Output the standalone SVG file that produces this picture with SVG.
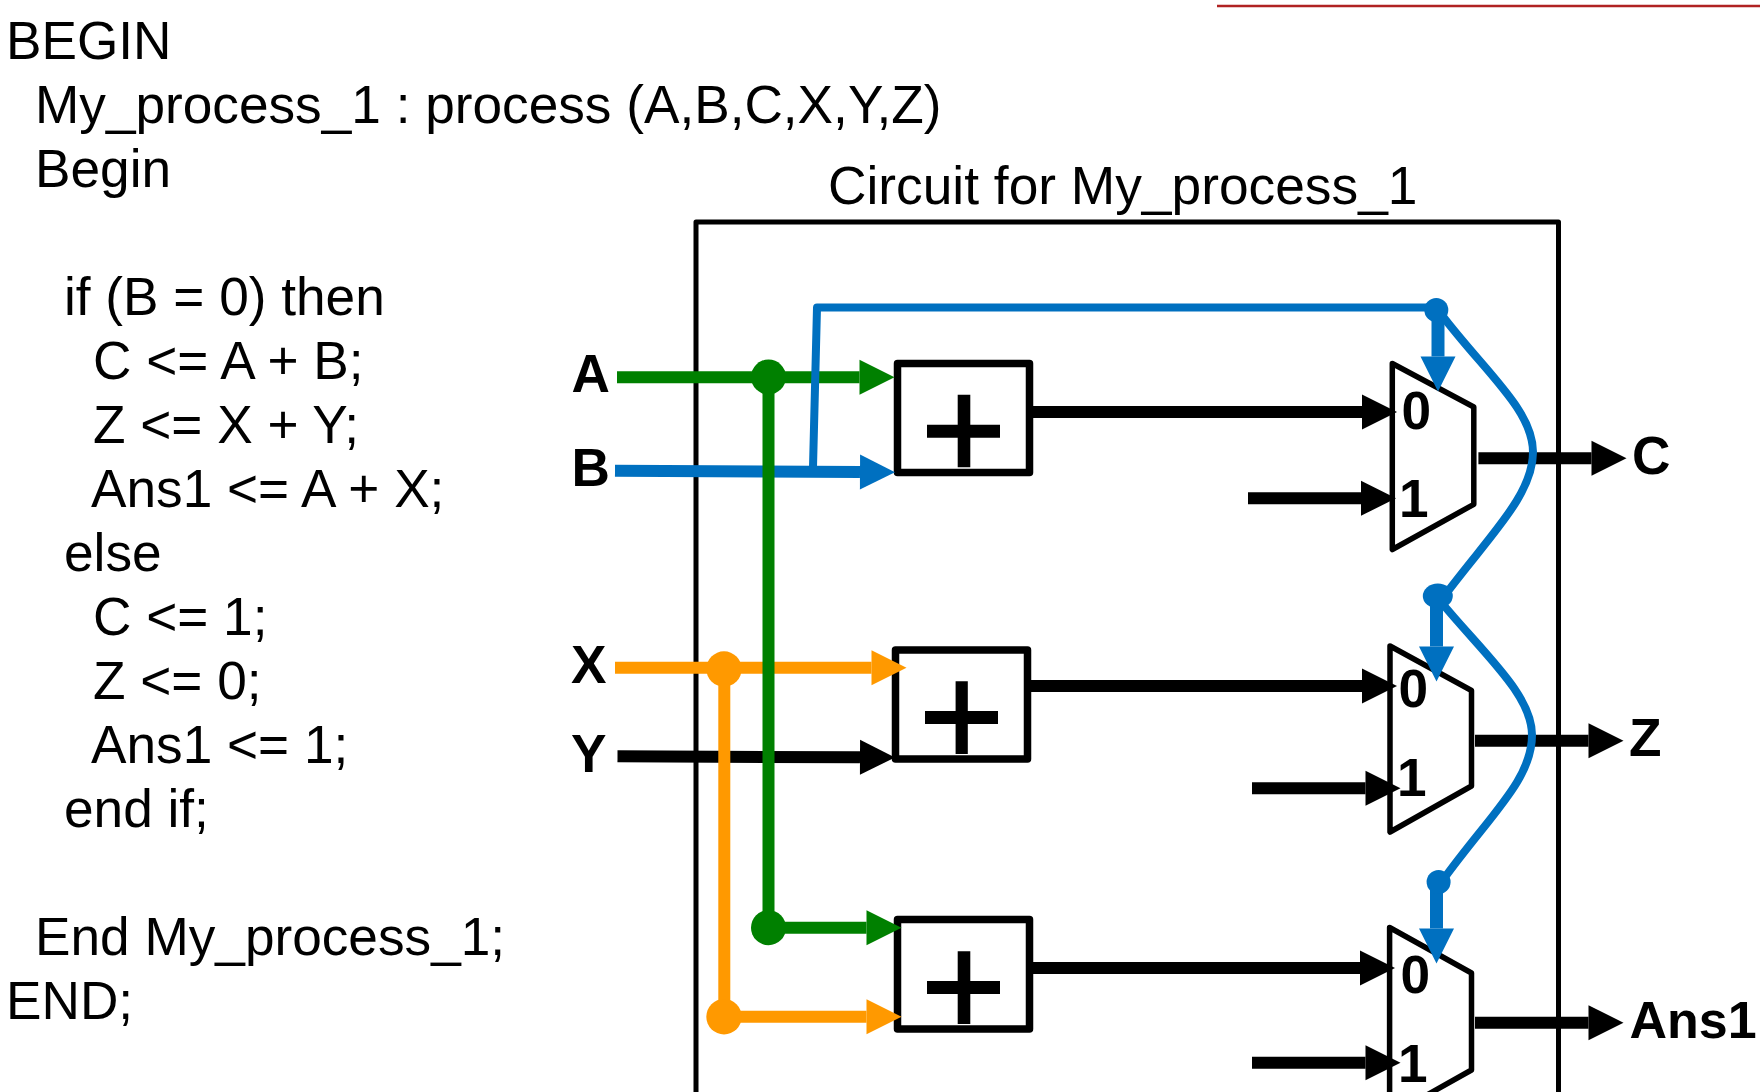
<svg xmlns="http://www.w3.org/2000/svg" width="1760" height="1092" viewBox="0 0 1760 1092">
<style>
text{font-family:"Liberation Sans",Arial,sans-serif;font-size:53.2px;fill:#000}
.b{font-weight:bold}
.w{fill:none;stroke-width:12;stroke-linecap:butt}
.k{stroke:#000}.g{stroke:#008000}.u{stroke:#0070C0}.o{stroke:#FF9900}
.box{fill:#fff;stroke:#000;stroke-width:7.5;stroke-linejoin:round}
.mux{fill:#fff;stroke:#000;stroke-width:5.5;stroke-linejoin:round}
.plus{fill:#000}
.thin{fill:none;stroke:#0070C0;stroke-width:8;stroke-linejoin:round}
</style>
<defs>
<marker id="hk" markerUnits="userSpaceOnUse" markerWidth="36" markerHeight="36" refX="0" refY="17.5" orient="auto" overflow="visible"><path d="M0,0L35,17.5L0,35Z" fill="#000"/></marker>
<marker id="hg" markerUnits="userSpaceOnUse" markerWidth="36" markerHeight="36" refX="0" refY="17.5" orient="auto" overflow="visible"><path d="M0,0L35,17.5L0,35Z" fill="#008000"/></marker>
<marker id="hu" markerUnits="userSpaceOnUse" markerWidth="36" markerHeight="36" refX="0" refY="17.5" orient="auto" overflow="visible"><path d="M0,0L35,17.5L0,35Z" fill="#0070C0"/></marker>
<marker id="ho" markerUnits="userSpaceOnUse" markerWidth="36" markerHeight="36" refX="0" refY="17.5" orient="auto" overflow="visible"><path d="M0,0L35,17.5L0,35Z" fill="#FF9900"/></marker>
</defs>
<path d="M1217,6H1760" fill="none" stroke="#B02222" stroke-width="2.4"/>
<g id="code">
<text x="6" y="58.5">BEGIN</text>
<text x="35" y="122.5">My_process_1 : process (A,B,C,X,Y,Z)</text>
<text x="35" y="186.5">Begin</text>
<text x="64" y="314.5">if (B = 0) then</text>
<text x="93" y="378.5">C &lt;= A + B;</text>
<text x="93" y="442.5">Z &lt;= X + Y;</text>
<text x="91" y="506.5">Ans1 &lt;= A + X;</text>
<text x="64" y="570.5">else</text>
<text x="93" y="634.5">C &lt;= 1;</text>
<text x="93" y="698.5">Z &lt;= 0;</text>
<text x="91" y="762.5">Ans1 &lt;= 1;</text>
<text x="64" y="826.5">end if;</text>
<text x="35" y="954.5">End My_process_1;</text>
<text x="6" y="1018.5">END;</text>
</g>
<text id="title" x="828" y="204" style="font-size:53.3px">Circuit for My_process_1</text>
<g id="frame"><path d="M696,1092V222H1558.5V1092" fill="none" stroke="#000" stroke-width="5" stroke-linejoin="round"/></g>
<g id="adder1"><rect class="box" x="897.5" y="363.5" width="132" height="109"/><path class="plus" d="M957.7,394.7H970.3V424.7H1000V437.7H970.3V467.3H957.7V437.7H927V424.7H957.7Z"/></g>
<g id="adder2"><rect class="box" x="895.5" y="650" width="132" height="109"/><path class="plus" d="M955.6,681.3H967.8V711H998V724H967.8V754H955.6V724H925V711H955.6Z"/></g>
<g id="adder3"><rect class="box" x="897.5" y="919.5" width="132" height="109.5"/><path class="plus" d="M957.7,951.3H970.3V981H1000V994H970.3V1024H957.7V994H927V981H957.7Z"/></g>
<g id="mux1"><path class="mux" d="M1392.3,363.5L1473.8,407V504.3L1392.3,549.5Z"/><text class="b" x="1401.5" y="428.5">0</text><text class="b" x="1399" y="517">1</text></g>
<g id="mux2"><path class="mux" d="M1390,646L1471.5,690.5V786L1390,832Z"/><text class="b" x="1398.5" y="707">0</text><text class="b" x="1397" y="796">1</text></g>
<g id="mux3"><path class="mux" d="M1389.6,927.5L1471.5,973V1070L1389.6,1116Z"/><text class="b" x="1400.5" y="993">0</text><text class="b" x="1398" y="1081.5">1</text></g>
<g id="connectors">
<path class="w k" d="M1033,412H1362" marker-end="url(#hk)"/>
<path class="w k" d="M1030,686H1362" marker-end="url(#hk)"/>
<path class="w k" d="M1033,968H1360" marker-end="url(#hk)"/>
<path class="w k" d="M1248,498.3H1361" marker-end="url(#hk)"/>
<path class="w k" d="M1252,788.3H1365.5" marker-end="url(#hk)"/>
<path class="w k" d="M1252,1062.7H1365.5" marker-end="url(#hk)"/>
<path class="w k" d="M1478.4,458.3H1591.5" marker-end="url(#hk)"/>
<path class="w k" d="M1475,740.7H1588.5" marker-end="url(#hk)"/>
<path class="w k" d="M1475,1022.7H1588.5" marker-end="url(#hk)"/>
<path class="w k" d="M617.5,756.3L860,757.3" marker-end="url(#hk)"/>
<path class="w o" d="M615,667.7H871.5" marker-end="url(#ho)"/>
<path class="w o" d="M724.3,669V1016.7"/>
<path class="w o" d="M724.3,1016.7H866.5" marker-end="url(#ho)"/>
<path class="w u" d="M615,470.7L860,472" marker-end="url(#hu)"/>
<path class="w g" d="M617,377.3H859.5" marker-end="url(#hg)"/>
<path class="w g" d="M768.5,377V927.7"/>
<path class="w g" d="M768.5,927.7H866.5" marker-end="url(#hg)"/>
<path class="thin" d="M813,467L817,307.5H1436"/>
<path class="thin" d="M1441,314C1485,372 1533,410 1533,452C1533,495 1490,535 1445,595"/>
<path class="thin" d="M1441,602C1485,655 1532,695 1532,735C1532,780 1490,815 1443,880"/>
<path class="w u" style="stroke-width:13" d="M1438,310V356.5" marker-end="url(#hu)"/>
<path class="w u" style="stroke-width:13" d="M1436.5,596V646.5" marker-end="url(#hu)"/>
<path class="w u" style="stroke-width:13" d="M1436.5,882V928.5" marker-end="url(#hu)"/>
<circle cx="768.5" cy="377" r="17.5" fill="#008000"/>
<circle cx="768.5" cy="927.7" r="17.5" fill="#008000"/>
<circle cx="724" cy="669" r="17.7" fill="#FF9900"/>
<circle cx="724" cy="1016.7" r="17.7" fill="#FF9900"/>
<circle cx="1436.3" cy="310" r="12" fill="#0070C0"/>
<ellipse cx="1437.8" cy="596" rx="15" ry="12.5" fill="#0070C0"/>
<circle cx="1438.6" cy="882" r="12" fill="#0070C0"/>
</g>
<g id="labels">
<text class="b" x="571.5" y="392">A</text>
<text class="b" x="571.5" y="486">B</text>
<text class="b" x="571" y="683">X</text>
<text class="b" x="571" y="771.5">Y</text>
<text class="b" x="1632" y="474">C</text>
<text class="b" x="1629" y="756">Z</text>
<text class="b" x="1629.5" y="1038" style="font-size:52px">Ans1</text>
</g>
</svg>
